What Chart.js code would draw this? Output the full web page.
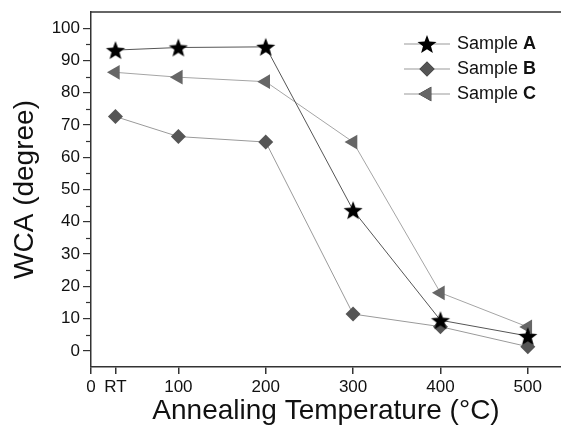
<!DOCTYPE html>
<html>
<head>
<meta charset="utf-8">
<script src="https://cdn.jsdelivr.net/npm/chart.js@4"></script>
<style>
  html, body { margin: 0; padding: 0; background: #fff; }
  #wrap { width: 561px; height: 430px; }
</style>
</head>
<body>
<div id="wrap"><canvas id="wca" width="561" height="430"></canvas></div>
<script>
// data
const temps = [28, 100, 200, 300, 400, 500];          // RT placed at ~28 C
const sampleA = [93.2, 94.0, 94.2, 43.6, 9.5, 4.6];
const sampleB = [72.6, 66.4, 64.7, 11.4, 7.5, 1.3];
const sampleC = [86.3, 84.8, 83.4, 64.7, 18.0, 7.4];
const xTickValues = [0, 28, 100, 200, 300, 400, 500];
const xTickLabels = ['0', 'RT', '100', '200', '300', '400', '500'];
const yTickValues = [0, 10, 20, 30, 40, 50, 60, 70, 80, 90, 100];
const yMinorValues = [5, 15, 25, 35, 45, 55, 65, 75, 85, 95];

const FONT = "'Liberation Sans', Arial, sans-serif";
const AXIS = '#333';

// filled five point star, chart.js 'star' is only an asterisk
function makeStar(r){
    const c = document.createElement('canvas');
    c.width = c.height = r * 2 + 2;
    const g = c.getContext('2d');
    g.fillStyle = '#000';
    g.beginPath();
    for (let i = 0; i < 10; i++) {
        const rad = i % 2 ? r * 0.42 : r;
        const a = -Math.PI / 2 + i * Math.PI / 5;
        g.lineTo(c.width / 2 + rad * Math.cos(a), c.height / 2 + 1 + rad * Math.sin(a));
    }
    g.closePath();
    g.fill();
    return c;
}
const star = makeStar(10);

function pts(ys){
    return temps.map((t, i) => ({x: t, y: ys[i]}));
}

const minorTicks = {
    id: 'minorTicks',
    afterDraw(chart){
        const ctx = chart.ctx, y = chart.scales.y, area = chart.chartArea;
        ctx.save();
        ctx.strokeStyle = AXIS;
        ctx.lineWidth = 1.2;
        yMinorValues.forEach(v => {
            const py = Math.round(y.getPixelForValue(v)) + 0.5;
            ctx.beginPath();
            ctx.moveTo(area.left - 5, py);
            ctx.lineTo(area.left, py);
            ctx.stroke();
        });
        // top frame line
        ctx.lineWidth = 1.5;
        ctx.beginPath();
        ctx.moveTo(area.left, area.top);
        ctx.lineTo(area.right, area.top);
        ctx.stroke();
        ctx.restore();
    }
};

const sampleLegend = {
    id: 'sampleLegend',
    afterDraw(chart){
        const ctx = chart.ctx, area = chart.chartArea;
        const x0 = area.right - 157, y0 = area.top + 32, step = 25;
        chart.data.datasets.forEach((ds, i) => {
            const y = y0 + i * step;
            ctx.save();
            ctx.strokeStyle = '#999';
            ctx.lineWidth = 1;
            ctx.beginPath();
            ctx.moveTo(x0, y);
            ctx.lineTo(x0 + 46, y);
            ctx.stroke();
            Chart.helpers.drawPoint(ctx, {
                pointStyle: ds.pointStyle,
                radius: ds.pointRadius,
                rotation: ds.pointRotation || 0,
                borderWidth: 0
            }, x0 + 23, y);
            ctx.fillStyle = ds.pointBackgroundColor;
            ctx.fill();
            ctx.fillStyle = '#111';
            ctx.textBaseline = 'middle';
            ctx.font = '18px ' + FONT;
            ctx.fillText('Sample ', x0 + 53, y);
            const w = ctx.measureText('Sample ').width;
            ctx.font = 'bold 18px ' + FONT;
            ctx.fillText(ds.label, x0 + 53 + w, y);
            ctx.restore();
        });
    }
};

new Chart(document.getElementById('wca'), {
    type: 'line',
    data: {
        datasets: [{
            label: 'A',
            data: pts(sampleA),
            borderColor: '#555',
            borderWidth: 1,
            pointStyle: star,
            pointRadius: 10,
            pointBackgroundColor: '#000',
            pointBorderWidth: 0
        }, {
            label: 'B',
            data: pts(sampleB),
            borderColor: '#9a9a9a',
            borderWidth: 1,
            pointStyle: 'rectRot',
            pointRadius: 7.5,
            pointBackgroundColor: '#555',
            pointBorderColor: '#555',
            pointBorderWidth: 0
        }, {
            label: 'C',
            data: pts(sampleC),
            borderColor: '#a5a5a5',
            borderWidth: 1,
            pointStyle: 'triangle',
            pointRotation: -90,
            pointRadius: 8.5,
            pointBackgroundColor: '#666',
            pointBorderColor: '#666',
            pointBorderWidth: 0
        }]
    },
    options: {
        responsive: false,
        animation: false,
        events: [],
        layout: { autoPadding: false, padding: { top: 12, right: 0, left: 0, bottom: 0 } },
        plugins: {
            legend: { display: false },
            tooltip: { enabled: false }
        },
        scales: {
            x: {
                type: 'linear',
                min: 0,
                max: 538,
                afterBuildTicks: s => { s.ticks = xTickValues.map(v => ({value: v})); },
                afterFit: s => { s.height = 63; s.paddingLeft = 0; s.paddingRight = 0; },
                ticks: {
                    autoSkip: false,
                    maxRotation: 0,
                    padding: 3,
                    color: '#111',
                    font: { family: FONT, size: 17 },
                    callback: (v, i) => xTickLabels[i]
                },
                grid: { drawOnChartArea: false, tickLength: 7, color: AXIS, lineWidth: 1.5 },
                border: { color: AXIS, width: 1.5 },
                title: {
                    display: true,
                    text: 'Annealing Temperature (°C)',
                    color: '#111',
                    font: { family: FONT, size: 28 },
                    padding: { top: 0, bottom: 2 }
                }
            },
            y: {
                min: -5,
                max: 105,
                afterBuildTicks: s => { s.ticks = yTickValues.map(v => ({value: v})); },
                afterFit: s => { s.width = 91; s.paddingTop = 0; s.paddingBottom = 0; },
                ticks: {
                    padding: 3,
                    color: '#111',
                    font: { family: FONT, size: 17 }
                },
                grid: { drawOnChartArea: false, tickLength: 8, color: AXIS, lineWidth: 1.2 },
                border: { color: AXIS, width: 1.5 },
                title: {
                    display: true,
                    text: 'WCA (degree)',
                    color: '#111',
                    font: { family: FONT, size: 28 },
                    padding: { top: 8, bottom: 0 }
                }
            }
        }
    },
    plugins: [minorTicks, sampleLegend]
});
</script>
</body>
</html>
